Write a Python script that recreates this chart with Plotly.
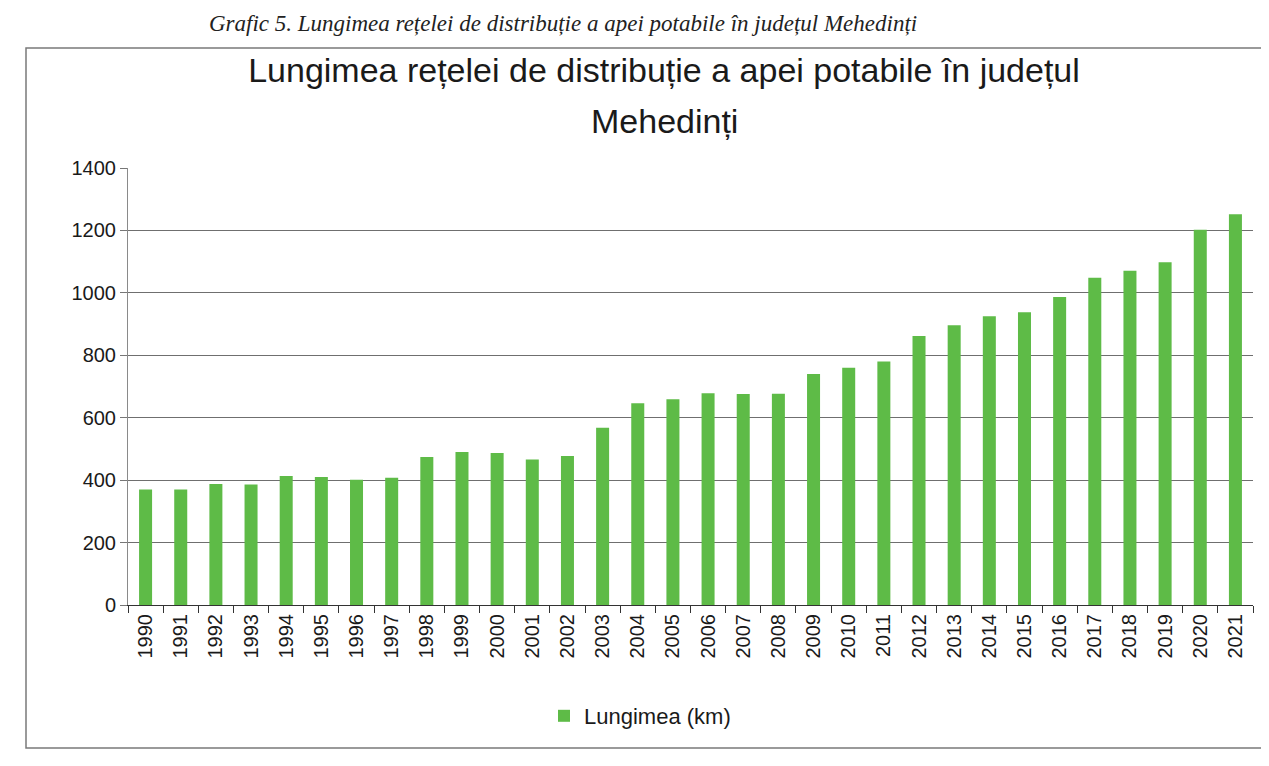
import plotly.graph_objects as go

years = [str(y) for y in range(1990, 2022)]
lungimea_km = [370, 370, 388, 386, 413, 410, 401, 408, 474, 490,
               487, 466, 477, 568, 646, 659, 678, 676, 677, 740,
               760, 780, 862, 896, 925, 938, 987, 1048, 1071, 1098,
               1202, 1252]

series_name = "Lungimea (km)"
title_line1 = "Lungimea rețelei de distribuție a apei potabile în județul"
title_line2 = "Mehedinți"
caption = "Grafic 5. Lungimea rețelei de distribuție a apei potabile în județul Mehedinți"

W, H = 1269, 766
L, R, T, B = 120, 24, 160, 169
pw, ph = W - L - R, H - T - B

def px(x):
    return (x - L) / pw

def py(y):
    return (H - B - y) / ph

FONT = "Liberation Sans, Arial, sans-serif"

fig = go.Figure()
fig.add_trace(go.Bar(
    x=years, y=lungimea_km, name=series_name,
    marker=dict(color="#5EBB47", line=dict(width=0)),
    showlegend=True,
))

fig.update_layout(
    width=W, height=H,
    margin=dict(l=L, r=R, t=T, b=B),
    paper_bgcolor="white", plot_bgcolor="white",
    bargap=0.63,
    font=dict(family=FONT, color="#1a1a1a"),
    title=dict(text=title_line1, x=656 / W, xref="container", xanchor="center",
               y=1 - 62 / H, yref="container", yanchor="middle",
               font=dict(size=34, family=FONT, color="#1a1a1a")),
    showlegend=True,
    legend=dict(orientation="h", x=px(632), xanchor="center", xref="paper",
                y=py(708), yanchor="middle",
                font=dict(size=22), itemwidth=30),
    xaxis=dict(type="category", showgrid=False, tickangle=-90,
               tickfont=dict(size=20), ticks="outside", tickson="boundaries",
               ticklen=7, tickcolor="#333", showline=True, linecolor="#333",
               linewidth=1.2),
    yaxis=dict(range=[0, 1400], dtick=200, showgrid=True, gridcolor="#6f6f6f",
               gridwidth=1.2, tickfont=dict(size=20), ticks="outside",
               ticklen=7, tickcolor="#777", showline=True, linecolor="#8a8a8a",
               zeroline=False),
)

fig.add_annotation(text=title_line2, xref="paper", yref="paper",
                   x=px(656), y=py(113), xanchor="center", yanchor="middle",
                   showarrow=False,
                   font=dict(family=FONT, size=34, color="#1a1a1a"))

# caption above chart box
fig.add_annotation(text="<i>" + caption + "</i>", xref="paper", yref="paper",
                   x=px(555), y=py(1), xanchor="center", yanchor="top",
                   showarrow=False,
                   font=dict(family="Liberation Serif, Times New Roman, serif",
                             size=23, color="#222"))
# border of chart area (scan frame)
fig.add_shape(type="rect", xref="paper", yref="paper",
              x0=px(18), x1=px(1257), y0=py(740), y1=py(40),
              line=dict(color="#7a7a7a", width=1.5), layer="below")

fig.write_html("out.html")
